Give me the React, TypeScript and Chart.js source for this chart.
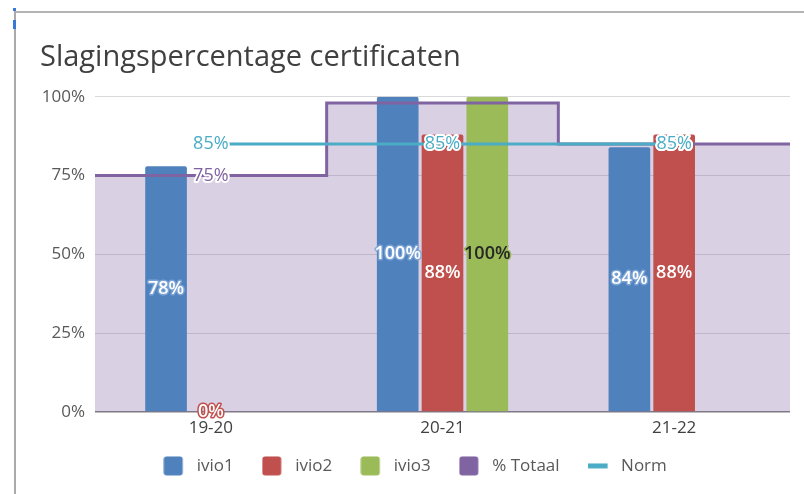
import React, { useEffect, useRef } from 'react';
import { Chart, registerables } from 'chart.js';

Chart.register(...registerables);

// ---- data ----
const categories = ['19-20', '20-21', '21-22'];
const ivio1: (number | null)[] = [78, 100, 84];
const ivio2: (number | null)[] = [0, 88, 88];
const ivio3: (number | null)[] = [null, 100, null];
const totaal: number[] = [75, 98, 85];
const totaalLabelShown: boolean[] = [true, false, true];
const norm: number[] = [85, 85, 85];
const yTicks: number[] = [0, 25, 50, 75, 100];
const seriesNames = ['ivio1', 'ivio2', 'ivio3', '% Totaal', 'Norm'];

const BLUE = '#4f81bd';
const RED = '#c0504d';
const GREEN = '#9bbb59';
const PURPLE = '#8064a2';
const CYAN = '#4bacc6';
const FONT = '"Open Sans", "DejaVu Sans", sans-serif';

function makeMarker(color: string, kind: 'box' | 'line'): HTMLCanvasElement {
  const c = document.createElement('canvas');
  c.width = 25;
  c.height = 20;
  const g = c.getContext('2d')!;
  g.fillStyle = color;
  if (kind === 'box') {
    g.beginPath();
    (g as any).roundRect(0.5, 0.5, 19, 19, 3);
    g.fill();
  } else {
    g.fillRect(0, 7.5, 20, 5);
  }
  return c;
}

const toPoints = (arr: (number | null)[]) => arr.map((v, i) => ({ x: i, y: v }));

const labelPlugin = {
  id: 'valueLabels',
  afterLayout(chart: any) {
    // pull the legend closer to the axis labels
    const lg = chart.legend;
    if (lg) {
      lg.top -= 15;
      lg.bottom -= 15;
    }
  },
  afterDatasetsDraw(chart: any) {
    const ctx: CanvasRenderingContext2D = chart.ctx;
    const xs = chart.scales.x;
    const ys = chart.scales.y;
    ctx.save();
    ctx.textAlign = 'center';
    ctx.textBaseline = 'middle';
    ctx.lineJoin = 'round';

    const barStyles = [
      { fill: '#ffffff', stroke: 'rgba(125,165,215,0.9)' },
      { fill: '#ffffff', stroke: RED },
      { fill: '#262626', stroke: GREEN },
    ];
    ctx.font = `600 18px ${FONT}`;
    [0, 1, 2].forEach((di) => {
      const meta = chart.getDatasetMeta(di);
      const ds = chart.data.datasets[di];
      meta.data.forEach((el: any, i: number) => {
        const v = ds.data[i] && ds.data[i].y;
        if (v === null || v === undefined) return;
        const p = el.getProps(['x', 'y', 'base'], true);
        const cy = (p.y + p.base) / 2;
        const t = `${v}%`;
        ctx.lineWidth = 3;
        ctx.strokeStyle = barStyles[di].stroke;
        ctx.strokeText(t, p.x, cy);
        ctx.fillStyle = barStyles[di].fill;
        ctx.fillText(t, p.x, cy);
      });
    });

    ctx.font = `18px ${FONT}`;
    totaal.forEach((v, i) => {
      if (!totaalLabelShown[i]) return;
      const x = xs.getPixelForValue(i);
      const y = ys.getPixelForValue(v);
      const t = `${v}%`;
      ctx.lineWidth = 4;
      ctx.strokeStyle = '#ffffff';
      ctx.strokeText(t, x, y);
      ctx.fillStyle = PURPLE;
      ctx.fillText(t, x, y);
    });
    norm.forEach((v, i) => {
      const x = xs.getPixelForValue(i);
      const y = ys.getPixelForValue(v);
      const t = `${v}%`;
      ctx.lineWidth = 4;
      ctx.strokeStyle = '#ffffff';
      ctx.strokeText(t, x, y);
      ctx.fillStyle = CYAN;
      ctx.fillText(t, x, y);
    });
    ctx.restore();
  },
};

export default function App() {
  const ref = useRef<HTMLCanvasElement | null>(null);

  useEffect(() => {
    if (!ref.current) return;
    const markers = [
      makeMarker(BLUE, 'box'),
      makeMarker(RED, 'box'),
      makeMarker(GREEN, 'box'),
      makeMarker(PURPLE, 'box'),
      makeMarker(CYAN, 'line'),
    ];
    // stepped area: each value spans its whole category band
    const totaalPoints = totaal
      .map((v, i) => ({ x: i - 0.5, y: v }))
      .concat([{ x: totaal.length - 0.5, y: totaal[totaal.length - 1] }]);

    const chart = new Chart(ref.current, {
      type: 'bar',
      data: {
        datasets: [
          { type: 'bar', label: seriesNames[0], data: toPoints(ivio1), backgroundColor: BLUE, borderRadius: 2, order: 3 },
          { type: 'bar', label: seriesNames[1], data: toPoints(ivio2), backgroundColor: RED, borderRadius: 2, order: 3 },
          { type: 'bar', label: seriesNames[2], data: toPoints(ivio3), backgroundColor: GREEN, borderRadius: 2, order: 3 },
          {
            type: 'line',
            label: seriesNames[3],
            data: totaalPoints,
            stepped: 'before',
            fill: 'origin',
            backgroundColor: 'rgba(128,100,162,0.3)',
            borderColor: PURPLE,
            borderWidth: 3,
            pointRadius: 0,
            order: 2,
          },
          {
            type: 'line',
            label: seriesNames[4],
            data: toPoints(norm),
            borderColor: CYAN,
            borderWidth: 3,
            pointRadius: 0,
            fill: false,
            order: 1,
          },
        ] as any,
      },
      options: {
        responsive: false,
        animation: false,
        events: [],
        devicePixelRatio: 1,
        layout: { padding: { left: 40, right: 14, top: 0, bottom: -5.4 } },
        datasets: { bar: { categoryPercentage: 0.58, barPercentage: 0.93, grouped: true } },
        scales: {
          x: {
            type: 'linear',
            min: -0.5,
            max: categories.length - 0.5,
            offset: false,
            grid: { display: false, drawTicks: false },
            border: { display: false },
            afterBuildTicks: (scale: any) => {
              scale.ticks = categories.map((_, i) => ({ value: i }));
            },
            ticks: {
              autoSkip: false,
              maxRotation: 0,
              color: '#404040',
              font: { size: 17, family: FONT },
              padding: 6,
              callback: (v: any) => categories[v] ?? '',
            },
          },
          y: {
            min: 0,
            max: 100,
            afterBuildTicks: (scale: any) => {
              scale.ticks = yTicks.map((v) => ({ value: v }));
            },
            ticks: {
              color: '#595959',
              font: { size: 17, family: FONT },
              padding: 10,
              callback: (v: any) => `${v}%`,
            },
            afterFit: (scale: any) => {
              scale.width = 55;
            },
            grid: {
              drawTicks: false,
              color: (c: any) => (c.tick && c.tick.value === 0 ? '#7f7f7f' : '#d9d9d9'),
              lineWidth: (c: any) => (c.tick && c.tick.value === 0 ? 1.5 : 1),
            },
            border: { display: false },
          },
        },
        plugins: {
          filler: { drawTime: 'beforeDatasetsDraw' },
          tooltip: { enabled: false },
          title: {
            display: true,
            text: 'Slagingspercentage certificaten',
            align: 'start',
            color: '#404040',
            font: { size: 29, weight: 'normal', family: FONT },
            padding: { top: 40, bottom: 22 },
          },
          legend: {
            position: 'bottom',
            labels: {
              usePointStyle: true,
              pointStyleWidth: 25,
              boxHeight: 17,
              padding: 28,
              color: '#595959',
              font: { size: 17, family: FONT },
              generateLabels: () =>
                seriesNames.map((name, i) => ({
                  text: name,
                  datasetIndex: i,
                  pointStyle: markers[i],
                  fillStyle: 'transparent',
                  strokeStyle: 'transparent',
                  lineWidth: 0,
                  hidden: false,
                  fontColor: '#595959',
                })) as any,
            },
          },
        },
      } as any,
      plugins: [labelPlugin],
    });
    return () => chart.destroy();
  }, []);

  return (
    <div style={{ position: 'fixed', left: 0, top: 0, width: 804, height: 494, background: '#ffffff', overflow: 'hidden' }}>
      <canvas ref={ref} width={804} height={494} style={{ position: 'absolute', left: 0, top: 0, width: 804, height: 494 }} />
      <div style={{ position: 'absolute', left: 15, top: 11, width: 789, height: 2, background: '#b4b4b4' }} />
      <div style={{ position: 'absolute', left: 14, top: 11, width: 2, height: 483, background: '#aaaaaa' }} />
      <div style={{ position: 'absolute', left: 13, top: 8, width: 3, height: 3, background: '#3a78d8' }} />
      <div style={{ position: 'absolute', left: 13, top: 20, width: 3, height: 9, background: '#3a78d8' }} />
    </div>
  );
}
